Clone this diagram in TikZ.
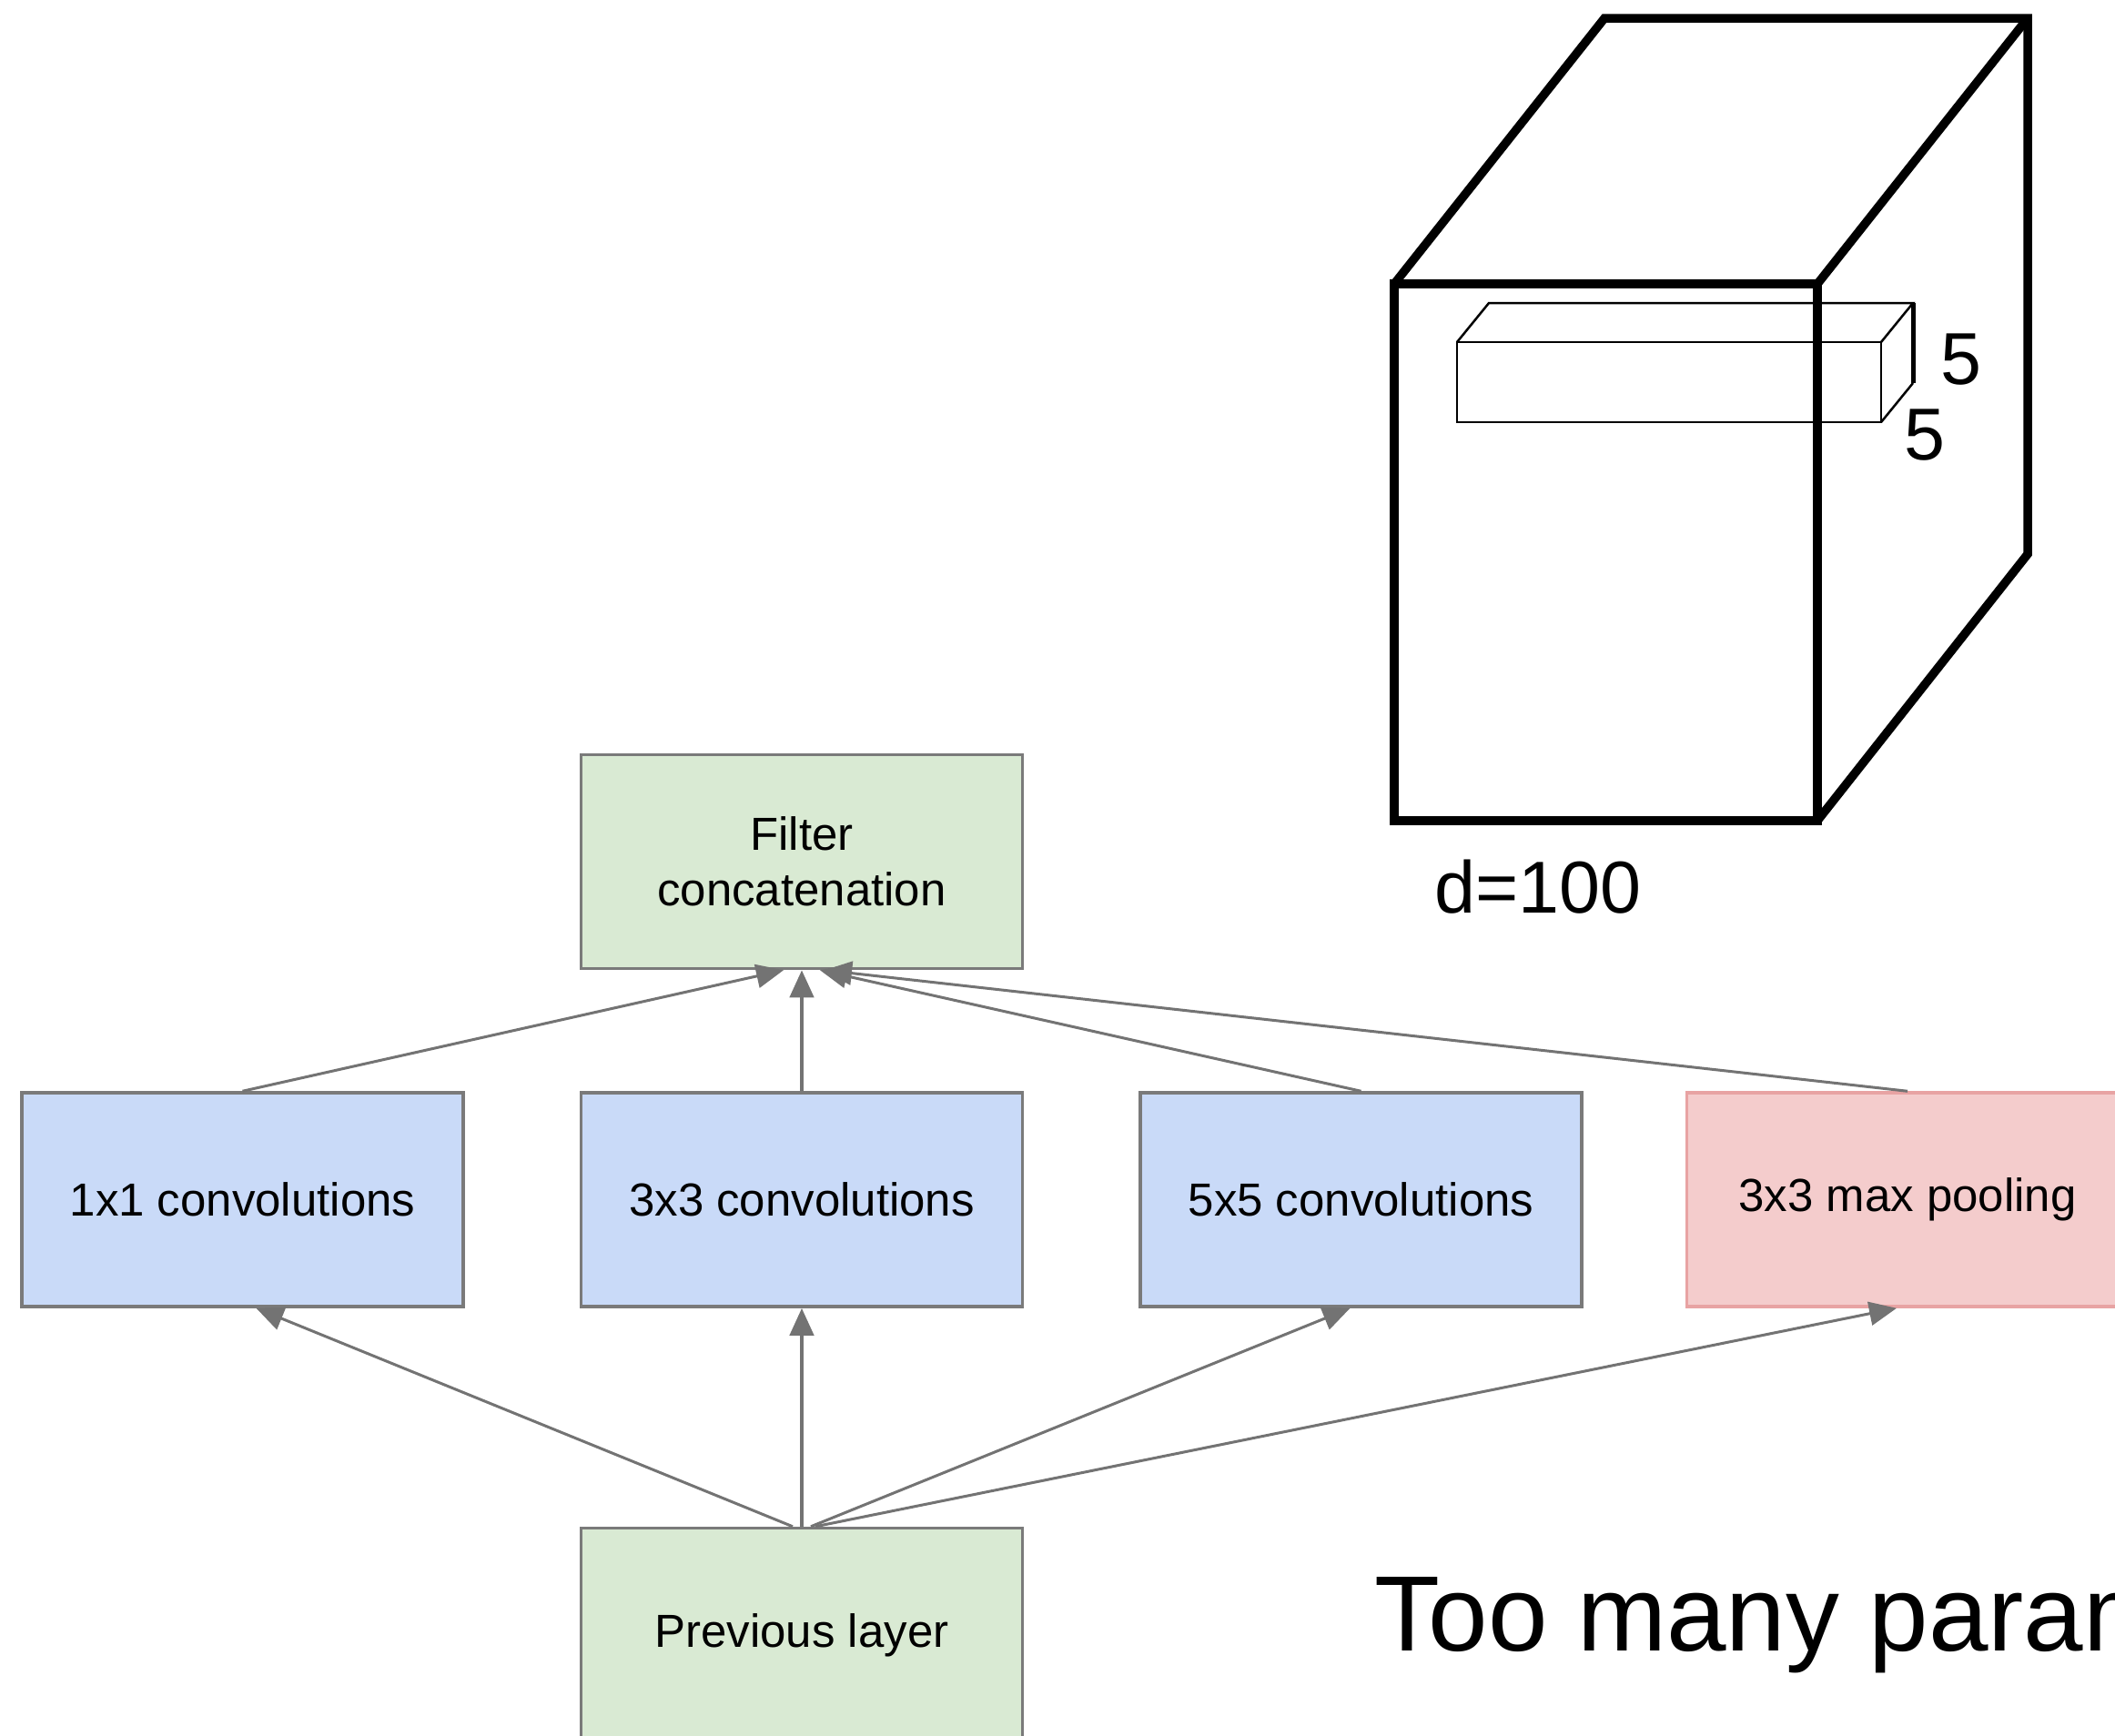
\documentclass[tikz,border=0pt]{standalone}
\usepackage{fontspec}
\setmainfont{Liberation Sans}
\usetikzlibrary{arrows.meta, positioning}
\definecolor{boxgreen}{HTML}{D9EAD3}
\definecolor{boxblue}{HTML}{C9DAF8}
\definecolor{boxred}{HTML}{F4CCCC}
\definecolor{boxredline}{HTML}{E8A3A3}
\definecolor{boxgray}{HTML}{7A7A7A}
\definecolor{arrowgray}{HTML}{737373}
\tikzset{box/.style={rectangle,draw=boxgray,line width=0.35mm,align=center,inner sep=3pt,minimum width=48.5mm,minimum height=23.5mm,font=\fontsize{14.5}{17.4}\selectfont},
greenbox/.style={box,fill=boxgreen},
bluebox/.style={box,fill=boxblue},
redbox/.style={box,fill=boxred,draw=boxredline},
line/.style={-{Triangle[length=3mm,width=2.6mm]},draw=arrowgray,line width=0.3mm},
cubeline/.style={line width=0.95mm},
barline/.style={line width=0.25mm},
dimlabel/.style={inner sep=0pt,font=\fontsize{23}{27}\selectfont}}

\begin{document}
\begin{tikzpicture}[node distance=13.3mm and 12.6mm]
\useasboundingbox (0,0) rectangle (23.24,-19.07);
\clip (0,0) rectangle (23.24,-19.07);
% inception module
\node[greenbox] (concat) at (8.81,-9.47) {Filter\\concatenation};
\node[bluebox, below=of concat] (conv3) {3x3 convolutions};
\node[bluebox, left=of conv3] (conv1) {1x1 convolutions};
\node[bluebox, right=of conv3] (conv5) {5x5 convolutions};
\node[redbox, right=11.2mm of conv5] (pool) {3x3 max pooling};
\node[greenbox, below=24mm of conv3] (prev) {Previous layer};
\draw[line] (conv1.north) -- ([xshift=-2mm]concat.south);
\draw[line, line width=0.45mm] (conv3) -- (concat);
\draw[line] (conv5.north) -- ([xshift=2mm]concat.south);
\draw[line] (pool.north) -- ([xshift=2.5mm]concat.south);
\draw[line] ([xshift=-1mm]prev.north) -- ([xshift=1.5mm]conv1.south);
\draw[line, line width=0.45mm] (prev) -- (conv3);
\draw[line] ([xshift=1mm]prev.north) -- ([xshift=-1.2mm]conv5.south);
\draw[line] ([xshift=1.5mm]prev.north) -- ([xshift=-1.2mm]pool.south);
% input volume
\draw[cubeline] (15.32,-3.12) rectangle (19.97,-9.02);
\draw[cubeline] (15.32,-3.12) -- (17.63,-0.20) -- (22.28,-0.20) -- (22.28,-6.09) -- (19.97,-9.02);
\draw[cubeline] (22.28,-0.20) -- (19.97,-3.12);
% 5x5 filter
\draw[barline] (16.01,-3.76) rectangle (20.67,-4.64);
\draw[barline] (16.01,-3.76) -- (16.36,-3.33) -- (21.02,-3.33) -- (20.67,-3.76);
\draw[barline] (21.02,-4.21) -- (20.67,-4.64);
\draw[line width=0.5mm] (21.02,-3.33) -- (21.02,-4.21);
\node[dimlabel] (five1) at (21.55,-3.95) {5};
\node[dimlabel] (five2) at (21.15,-4.78) {5};
\node[dimlabel] (depth) at (16.90,-9.75) {d=100};
\node[anchor=base west, inner sep=0pt, font=\fontsize{33.5}{40}\selectfont] (note) at (15.10,-18.14) {Too many parameters};
\end{tikzpicture}
\end{document}
